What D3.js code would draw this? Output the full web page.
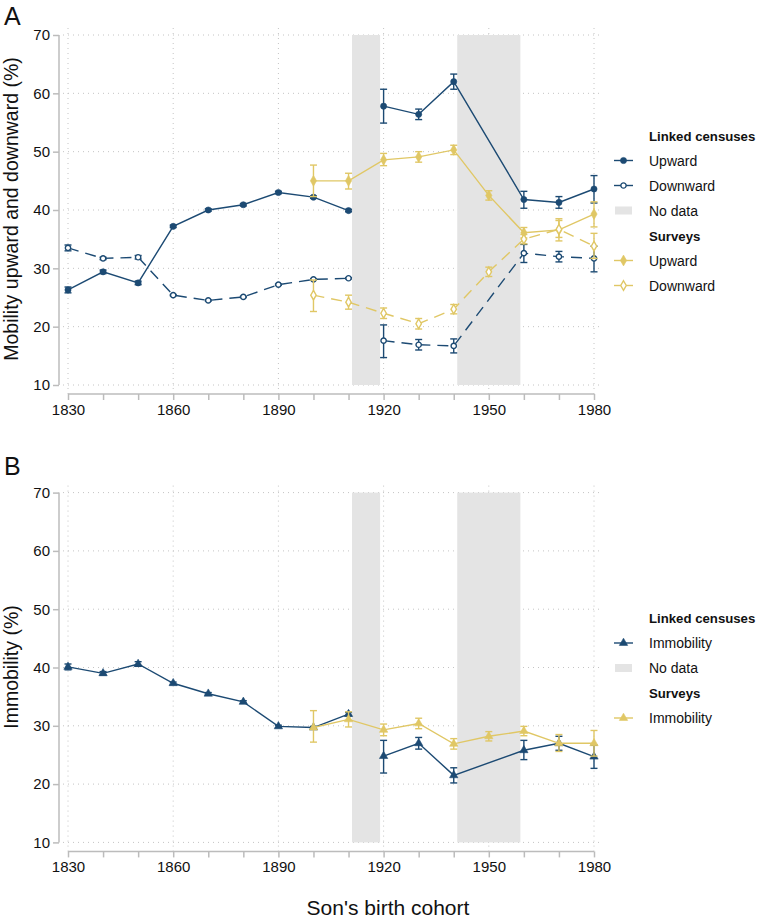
<html>
<head>
  <meta http-equiv='Content-Type' content='text/html;charset=utf-8'>
  <title>Mobility and immobility by birth cohort</title>
  <script src="https://cdn.jsdelivr.net/npm/d3@7"></script>
  <style type='text/css'>
    body { margin: 0; background: #fff; font-family: 'Liberation Sans', Arial, sans-serif; }
    svg text { fill: #111; }
  </style>
</head>
<body>
<div id="main"></div>
<script type='text/javascript'>

// ---- data ----
var yearsLinked = [1830, 1840, 1850, 1860, 1870, 1880, 1890, 1900, 1910, 1920, 1930, 1940, 1960, 1970, 1980];
var yearsSurvey = [1900, 1910, 1920, 1930, 1940, 1950, 1960, 1970, 1980];
var linkedGapAfter = 1910;
var noDataBands = [[1911, 1919], [1941, 1959]];

var linkedUp     = [26.3, 29.4, 27.5, 37.2, 40.0, 40.9, 43.0, 42.2, 39.9, 57.8, 56.4, 62.0, 41.8, 41.3, 43.6];
var linkedUpLo   = [25.8, 29.1, 27.2, 37.0, 39.8, 40.7, 42.8, 42.0, 39.7, 54.9, 55.5, 60.7, 40.3, 40.3, 41.2];
var linkedUpHi   = [26.8, 29.7, 27.8, 37.4, 40.2, 41.1, 43.2, 42.4, 40.1, 60.7, 57.3, 63.3, 43.2, 42.3, 45.9];
var linkedDown   = [33.5, 31.7, 31.9, 25.4, 24.5, 25.1, 27.2, 28.1, 28.3, 17.6, 16.9, 16.7, 32.6, 32.0, 31.7];
var linkedDownLo = [33.0, 31.5, 31.6, 25.3, 24.4, 25.0, 27.1, 28.0, 28.2, 14.7, 16.0, 15.5, 31.0, 31.1, 29.4];
var linkedDownHi = [34.0, 31.9, 32.2, 25.5, 24.6, 25.2, 27.3, 28.2, 28.4, 20.3, 17.8, 17.9, 34.1, 32.9, 33.8];

var surveyUp     = [45.0, 45.0, 48.6, 49.1, 50.3, 42.5, 36.1, 36.6, 39.3];
var surveyUpLo   = [42.3, 43.6, 47.6, 48.2, 49.5, 41.7, 35.2, 34.7, 37.1];
var surveyUpHi   = [47.7, 46.3, 49.7, 50.0, 51.1, 43.3, 37.0, 38.5, 41.4];
var surveyDown   = [25.4, 24.2, 22.3, 20.5, 23.0, 29.4, 35.0, 36.7, 33.8];
var surveyDownLo = [22.6, 23.0, 21.4, 19.6, 22.2, 28.6, 34.2, 35.3, 31.7];
var surveyDownHi = [28.0, 25.4, 23.2, 21.4, 23.8, 30.2, 35.8, 38.2, 36.0];

var linkedImm    = [40.1, 39.0, 40.6, 37.3, 35.5, 34.1, 29.9, 29.7, 32.0, 24.8, 27.0, 21.5, 25.8, 27.0, 24.7];
var linkedImmLo  = [39.6, 38.7, 40.2, 37.1, 35.3, 33.9, 29.7, 29.5, 31.7, 21.9, 26.0, 20.2, 24.2, 25.8, 22.7];
var linkedImmHi  = [40.6, 39.3, 41.0, 37.5, 35.7, 34.3, 30.1, 29.9, 32.3, 27.5, 28.0, 22.8, 27.5, 28.2, 26.7];
var surveyImm    = [29.7, 31.1, 29.3, 30.4, 26.9, 28.2, 29.1, 27.0, 27.0];
var surveyImmLo  = [27.2, 29.8, 28.3, 29.5, 26.0, 27.4, 28.3, 25.6, 24.8];
var surveyImmHi  = [32.6, 32.4, 30.3, 31.3, 27.8, 29.0, 29.9, 28.5, 29.2];

var xTicks = d3.range(1830, 1981, 10);
var xLabels = [1830, 1860, 1890, 1920, 1950, 1980];
var yTicks = [10, 20, 30, 40, 50, 60, 70];

var navy = '#1c4a73',
    gold = '#e0c765',
    band = '#e4e4e4',
    axisGrey = '#bcbcbc',
    gridGrey = '#c4c4c4';

var svg = d3.select('#main').append('svg')
    .attr('width', 762)
    .attr('height', 921);

var x = d3.scaleLinear().domain([1830, 1980]).range([68, 594]);

function pts(years, v, lo, hi, gapAfter) {
  var out = [];
  years.forEach(function (yr, i) {
    out.push({ x: yr, y: v[i], lo: lo[i], hi: hi[i] });
    if (gapAfter && yr === gapAfter) out.push(null);
  });
  return out;
}

function symbolPath(type, size) {
  var s = { circle: d3.symbolCircle, diamond: d3.symbolDiamond, triangle: d3.symbolTriangle }[type];
  return d3.symbol().type(s).size(size)();
}

function drawPanel(opts) {
  var y = d3.scaleLinear().domain([10, 70]).range([opts.bottom, opts.top]);
  var g = svg.append('g');
  var plotTop = opts.top - 7, axisY = opts.bottom + 9;

  // gridlines
  g.selectAll('line.hgrid').data(yTicks).enter().append('line')
      .attr('x1', 63).attr('x2', 600)
      .attr('y1', function (d) { return y(d); }).attr('y2', function (d) { return y(d); })
      .style('stroke', gridGrey).style('stroke-width', 1).style('stroke-dasharray', '1,4');
  g.selectAll('line.vgrid').data(xLabels).enter().append('line')
      .attr('x1', function (d) { return x(d); }).attr('x2', function (d) { return x(d); })
      .attr('y1', plotTop).attr('y2', axisY)
      .style('stroke', gridGrey).style('stroke-width', 1).style('stroke-dasharray', '1,4');

  // no-data bands
  g.selectAll('rect.band').data(noDataBands).enter().append('rect')
      .attr('x', function (d) { return x(d[0]); })
      .attr('width', function (d) { return x(d[1]) - x(d[0]); })
      .attr('y', y(70)).attr('height', y(10) - y(70))
      .style('fill', band);

  // axes
  var yAxis = g.append('g').attr('transform', 'translate(59,0)')
      .call(d3.axisLeft(y).tickValues(yTicks).tickSize(6).tickPadding(3));
  var xAxis = g.append('g').attr('transform', 'translate(0,' + axisY + ')')
      .call(d3.axisBottom(x).tickValues(xTicks).tickSize(6).tickPadding(4)
        .tickFormat(function (d) { return xLabels.indexOf(d) >= 0 ? d : ''; }));
  yAxis.select('.domain').attr('d', 'M0,' + y(70) + 'V' + y(10));
  xAxis.select('.domain').attr('d', 'M' + x(1830) + ',0H' + x(1980));
  [yAxis, xAxis].forEach(function (a) {
    a.selectAll('.domain, line').style('stroke', axisGrey).style('stroke-width', 1.5);
    a.selectAll('text').style('font-size', '15px').style('fill', '#111')
      .style('font-family', "'Liberation Sans', Arial, sans-serif");
  });

  // series
  opts.series.forEach(function (s) {
    var data = s.data;
    var valid = data.filter(function (d) { return d; });
    var line = d3.line().defined(function (d) { return d; })
        .x(function (d) { return x(d.x); }).y(function (d) { return y(d.y); });
    var sg = g.append('g');
    sg.append('path').attr('d', line(data))
        .style('fill', 'none').style('stroke', s.color).style('stroke-width', 1.4)
        .style('stroke-dasharray', s.dashed ? '11,7' : null);
    var eb = sg.selectAll('g.eb').data(valid).enter().append('g');
    eb.append('line')
        .attr('x1', function (d) { return x(d.x); }).attr('x2', function (d) { return x(d.x); })
        .attr('y1', function (d) { return y(d.lo); }).attr('y2', function (d) { return y(d.hi); });
    eb.append('line')
        .attr('x1', function (d) { return x(d.x) - 3.5; }).attr('x2', function (d) { return x(d.x) + 3.5; })
        .attr('y1', function (d) { return y(d.lo); }).attr('y2', function (d) { return y(d.lo); });
    eb.append('line')
        .attr('x1', function (d) { return x(d.x) - 3.5; }).attr('x2', function (d) { return x(d.x) + 3.5; })
        .attr('y1', function (d) { return y(d.hi); }).attr('y2', function (d) { return y(d.hi); });
    eb.selectAll('line').style('stroke', s.color).style('stroke-width', 1.4);
    sg.selectAll('path.mk').data(valid).enter().append('path')
        .attr('transform', function (d) { return 'translate(' + x(d.x) + ',' + y(d.y) + ')'; })
        .attr('d', symbolPath(s.symbol, s.size))
        .style('fill', s.hollow ? '#fff' : s.color)
        .style('stroke', s.color).style('stroke-width', s.hollow ? 1.4 : 0.6);
  });

  // legend
  var lg = g.append('g');
  opts.legend.forEach(function (item, i) {
    var cy = opts.legendTop + i * 25;
    if (item.header) {
      lg.append('text').attr('x', 649).attr('y', cy + 5)
          .style('font-size', '13.2px').style('font-weight', 'bold').text(item.header);
      return;
    }
    if (item.band) {
      lg.append('rect').attr('x', 615).attr('y', cy - 4).attr('width', 17).attr('height', 8)
          .style('fill', band);
    } else {
      var s = item.series;
      lg.append('line').attr('x1', 614).attr('x2', 633).attr('y1', cy).attr('y2', cy)
          .style('stroke', s.color).style('stroke-width', 1.4);
      lg.append('path').attr('transform', 'translate(623.5,' + cy + ')')
          .attr('d', symbolPath(s.symbol, s.size))
          .style('fill', s.hollow ? '#fff' : s.color)
          .style('stroke', s.color).style('stroke-width', s.hollow ? 1.4 : 0.6);
    }
    lg.append('text').attr('x', 649).attr('y', cy + 5)
        .style('font-size', '14px').text(item.label);
  });

  // panel letter and y title
  svg.append('text').attr('x', 4).attr('y', opts.letterY)
      .style('font-size', '25px').text(opts.letter);
  svg.append('text')
      .attr('transform', 'translate(18,' + opts.titleY + ') rotate(-90)')
      .attr('text-anchor', 'middle')
      .style('font-size', '19.5px').text(opts.yTitle);
}

var sLinkedUp   = { data: pts(yearsLinked, linkedUp, linkedUpLo, linkedUpHi, linkedGapAfter), color: navy, symbol: 'circle', size: 30 };
var sLinkedDown = { data: pts(yearsLinked, linkedDown, linkedDownLo, linkedDownHi, linkedGapAfter), color: navy, symbol: 'circle', size: 22, hollow: true, dashed: true };
var sSurveyUp   = { data: pts(yearsSurvey, surveyUp, surveyUpLo, surveyUpHi), color: gold, symbol: 'diamond', size: 34 };
var sSurveyDown = { data: pts(yearsSurvey, surveyDown, surveyDownLo, surveyDownHi), color: gold, symbol: 'diamond', size: 26, hollow: true, dashed: true };
var sLinkedImm  = { data: pts(yearsLinked, linkedImm, linkedImmLo, linkedImmHi, linkedGapAfter), color: navy, symbol: 'triangle', size: 30 };
var sSurveyImm  = { data: pts(yearsSurvey, surveyImm, surveyImmLo, surveyImmHi), color: gold, symbol: 'triangle', size: 30 };

drawPanel({
  top: 35, bottom: 385, letter: 'A', letterY: 25, titleY: 209,
  yTitle: 'Mobility upward and downward (%)',
  series: [sLinkedUp, sLinkedDown, sSurveyUp, sSurveyDown],
  legendTop: 135.5,
  legend: [
    { header: 'Linked censuses' },
    { series: sLinkedUp, label: 'Upward' },
    { series: sLinkedDown, label: 'Downward' },
    { band: true, label: 'No data' },
    { header: 'Surveys' },
    { series: sSurveyUp, label: 'Upward' },
    { series: sSurveyDown, label: 'Downward' }
  ]
});

drawPanel({
  top: 492.6, bottom: 842.4, letter: 'B', letterY: 475, titleY: 667,
  yTitle: 'Immobility (%)',
  series: [sLinkedImm, sSurveyImm],
  legendTop: 618,
  legend: [
    { header: 'Linked censuses' },
    { series: sLinkedImm, label: 'Immobility' },
    { band: true, label: 'No data' },
    { header: 'Surveys' },
    { series: sSurveyImm, label: 'Immobility' }
  ]
});

svg.append('text').attr('x', 388).attr('y', 915).attr('text-anchor', 'middle')
    .style('font-size', '21px').text("Son's birth cohort");

</script>
</body>
</html>
